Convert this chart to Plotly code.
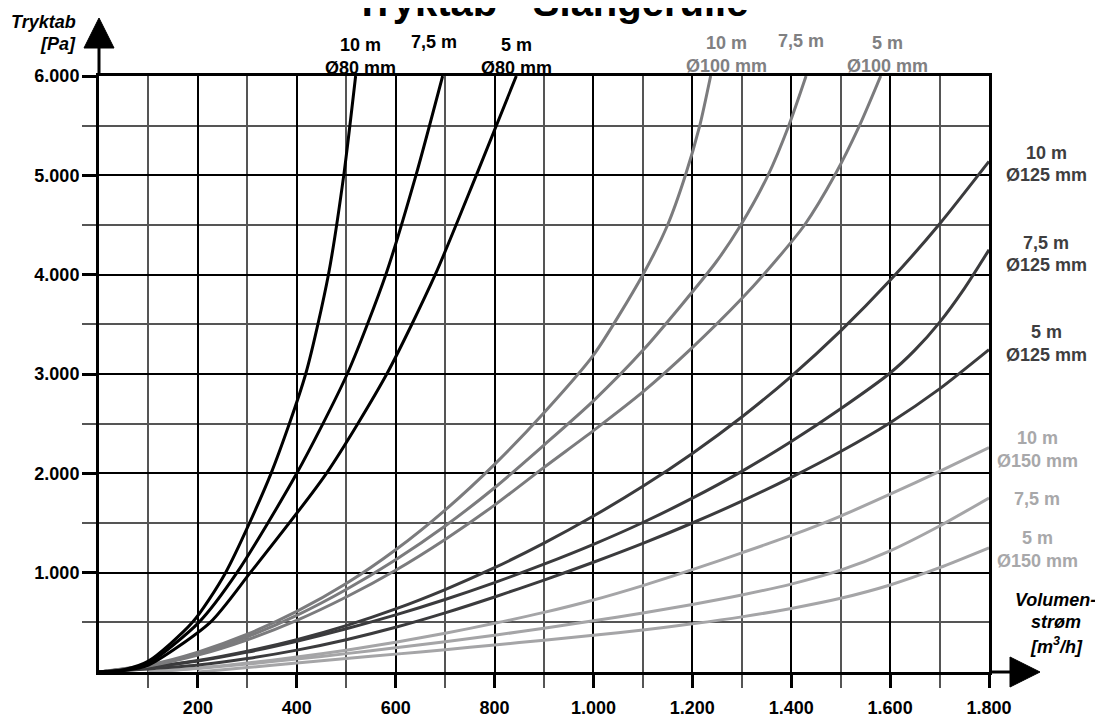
import plotly.graph_objects as go

# ---------------- data ----------------
# Ø80 mm  (flow m3/h, pressure loss Pa)
flow_80_10 = [0, 50, 100, 189, 256, 348, 418, 464, 495, 519]
tryk_80_10 = [0, 24, 110, 500, 1000, 2000, 3000, 4000, 5000, 6000]
flow_80_75 = [0, 50, 100, 202, 279, 400, 502, 580, 641, 695]
tryk_80_75 = [0, 20, 90, 500, 1000, 2000, 3000, 4000, 5000, 6000]
flow_80_5 = [0, 50, 100, 225, 306, 460, 582, 680, 763, 844]
tryk_80_5 = [0, 15, 70, 500, 1000, 2000, 3000, 4000, 5000, 6000]

# Ø100 mm
flow_100_10 = [0, 100, 200, 300, 400, 500, 600, 700, 800, 900, 1000, 1100, 1150, 1186, 1215, 1237]
tryk_100_10 = [0, 70, 200, 380, 610, 890, 1230, 1630, 2090, 2610, 3190, 4000, 4500, 5000, 5500, 6000]
flow_100_75 = [0, 100, 200, 300, 400, 500, 600, 700, 800, 900, 1000, 1101, 1247, 1298, 1353, 1395, 1430]
tryk_100_75 = [0, 65, 185, 355, 570, 830, 1130, 1470, 1855, 2285, 2730, 3243, 4120, 4500, 5000, 5500, 6000]
flow_100_5 = [0, 100, 200, 300, 400, 500, 600, 700, 800, 900, 1000, 1100, 1195, 1300, 1365, 1427, 1488, 1538, 1581]
tryk_100_5 = [0, 60, 170, 325, 520, 755, 1025, 1335, 1680, 2060, 2430, 2820, 3243, 3760, 4120, 4500, 5000, 5500, 6000]

# Ø125 mm
flow_125 = [0, 100, 200, 300, 400, 500, 600, 700, 800, 900, 1000, 1100, 1200, 1300, 1400, 1500, 1600, 1700, 1800]
tryk_125_10 = [0, 47, 116, 210, 326, 467, 635, 830, 1050, 1297, 1570, 1869, 2200, 2567, 2977, 3434, 3943, 4510, 5140]
tryk_125_5 = [0, 30, 70, 135, 220, 325, 450, 595, 755, 925, 1105, 1295, 1500, 1720, 1960, 2220, 2510, 2850, 3245]
flow_125_75 = [0, 100, 200, 300, 400, 500, 600, 700, 800, 900, 1000, 1100, 1200, 1300, 1400, 1500, 1600, 1650, 1700, 1750, 1800]
tryk_125_75 = [0, 50, 110, 200, 310, 435, 575, 730, 900, 1085, 1285, 1505, 1750, 2020, 2320, 2650, 3010, 3240, 3520, 3860, 4250]

# Ø150 mm
flow_150 = [100, 200, 300, 400, 500, 600, 700, 800, 900, 1000, 1100, 1200, 1300, 1400, 1500, 1600, 1700, 1800]
tryk_150_10 = [0, 40, 90, 150, 220, 300, 390, 490, 600, 725, 870, 1030, 1200, 1375, 1570, 1790, 2020, 2260]
tryk_150_75 = [0, 35, 80, 130, 185, 245, 305, 370, 440, 515, 595, 680, 775, 885, 1025, 1220, 1470, 1752]
flow_150_5 = [200, 300, 400, 500, 600, 700, 800, 900, 1000, 1100, 1200, 1300, 1400, 1500, 1600, 1700, 1800]
tryk_150_5 = [0, 45, 90, 135, 180, 225, 272, 320, 370, 423, 485, 555, 640, 742, 876, 1050, 1250]

x_major = [200, 400, 600, 800, 1000, 1200, 1400, 1600, 1800]
x_major_text = ["200", "400", "600", "800", "1.000", "1.200", "1.400", "1.600", "1.800"]
x_minor = [100, 300, 500, 700, 900, 1100, 1300, 1500, 1700]
y_major = [1000, 2000, 3000, 4000, 5000, 6000]
y_major_text = ["1.000", "2.000", "3.000", "4.000", "5.000", "6.000"]
y_minor = [500, 1500, 2500, 3500, 4500, 5500]

title_text = "Tryktab - Slangerulle"

# ---------------- styling ----------------
C80 = "#000000"
C100 = "#7b7b7d"
C125 = "#3b3b3d"
C150 = "#a5a5a7"
T100 = "#808082"
T125 = "#3e3e40"
T150 = "#a8a8aa"
FONT = "Liberation Sans, Arial, sans-serif"

W, H = 1103, 718
OFF = 8  # page body margin offset
# target page positions: x=0 -> 99, x=1800 -> 989, y=6000 -> 76, y=0 -> 672
L = 99 - OFF
T = 76 - OFF
PW = 989 - 99
PH = 672 - 76
R = W - L - PW
B = H - T - PH


def px(x):
    return (x - OFF - L) / PW


def py(y):
    return (T + PH - (y - OFF)) / PH


fig = go.Figure()

series = [
    (flow_150_5, tryk_150_5, C150),
    (flow_150, tryk_150_75, C150),
    (flow_150, tryk_150_10, C150),
    (flow_125, tryk_125_5, C125),
    (flow_125_75, tryk_125_75, C125),
    (flow_125, tryk_125_10, C125),
    (flow_100_5, tryk_100_5, C100),
    (flow_100_75, tryk_100_75, C100),
    (flow_100_10, tryk_100_10, C100),
    (flow_80_5, tryk_80_5, C80),
    (flow_80_75, tryk_80_75, C80),
    (flow_80_10, tryk_80_10, C80),
]
for xs, ys, col in series:
    fig.add_trace(go.Scatter(x=xs, y=ys, mode="lines",
                             line=dict(color=col, width=3, shape="spline", smoothing=0.7),
                             hoverinfo="skip", showlegend=False))

fig.update_xaxes(range=[0, 1800], showline=True, linewidth=3, linecolor="black", mirror=True,
                 automargin=False,
                 tickmode="array", tickvals=x_major, ticktext=x_major_text,
                 ticks="outside", ticklen=13, tickwidth=3, tickcolor="black",
                 ticklabelstandoff=4,
                 tickfont=dict(family=FONT, size=18, color="black", weight="bold"),
                 showgrid=True, gridcolor="black", gridwidth=1.5, zeroline=False,
                 minor=dict(tickmode="array", tickvals=x_minor, ticks="outside", ticklen=13,
                            tickwidth=1.5, tickcolor="#555555", showgrid=True,
                            gridcolor="#555555", gridwidth=1.5))
fig.update_yaxes(range=[0, 6000], showline=True, linewidth=3, linecolor="black", mirror=True,
                 automargin=False,
                 tickmode="array", tickvals=y_major, ticktext=y_major_text,
                 ticks="outside", ticklen=14, tickwidth=3, tickcolor="black",
                 ticklabelstandoff=-1,
                 tickfont=dict(family=FONT, size=18, color="black", weight="bold"),
                 showgrid=True, gridcolor="black", gridwidth=1.5, zeroline=False,
                 minor=dict(tickmode="array", tickvals=y_minor, ticks="outside", ticklen=14,
                            tickwidth=1.5, tickcolor="#555555", showgrid=True,
                            gridcolor="#555555", gridwidth=1.5))

shapes = [
    # y-axis extension and arrow
    dict(type="line", xref="paper", yref="paper", x0=0, x1=0, y0=1, y1=py(46),
         line=dict(color="black", width=3)),
    dict(type="path", xref="paper", yref="paper",
         path=f"M {px(99-15)} {py(48)} L {px(99)} {py(18)} L {px(99+15)} {py(48)} Z",
         fillcolor="black", line=dict(color="black", width=1)),
    # x-axis extension and arrow
    dict(type="line", xref="paper", yref="paper", x0=1, x1=px(1012), y0=0, y1=0,
         line=dict(color="black", width=3)),
    dict(type="path", xref="paper", yref="paper",
         path=f"M {px(1010)} {py(657)} L {px(1040)} {py(672)} L {px(1010)} {py(687)} Z",
         fillcolor="black", line=dict(color="black", width=1)),
]

ann = []


def add_text(text, x, y, color="black", size=18, italic=False, xanchor="center"):
    ann.append(dict(text=text, x=px(x), y=py(y), xref="paper", yref="paper",
                    showarrow=False, xanchor=xanchor, yanchor="middle",
                    font=dict(family=FONT, size=size, color=color, weight="bold",
                              style="italic" if italic else "normal")))


add_text(title_text, 551, 2, size=40)
add_text("Tryktab", 78, 22, italic=True, xanchor="right")
add_text("[Pa]", 78, 44, italic=True, xanchor="right")
add_text("Volumen-", 1055, 600, italic=True)
add_text("strøm", 1056, 622, italic=True)
add_text("[m<sup>3</sup>/h]", 1056, 645, italic=True)

# Ø80 labels
add_text("10 m", 360, 45)
add_text("Ø80 mm", 360, 68)
add_text("7,5 m", 434, 42)
add_text("5 m", 516, 45)
add_text("Ø80 mm", 516, 68)
# Ø100 labels
add_text("10 m", 726, 43, T100)
add_text("Ø100 mm", 726, 66, T100)
add_text("7,5 m", 801, 41, T100)
add_text("5 m", 887, 43, T100)
add_text("Ø100 mm", 887, 66, T100)
# Ø125 labels
add_text("10 m", 1046, 153, T125)
add_text("Ø125 mm", 1046, 175, T125)
add_text("7,5 m", 1046, 243, T125)
add_text("Ø125 mm", 1046, 265, T125)
add_text("5 m", 1046, 332, T125)
add_text("Ø125 mm", 1046, 355, T125)
# Ø150 labels
add_text("10 m", 1037, 438, T150)
add_text("Ø150 mm", 1037, 461, T150)
add_text("7,5 m", 1037, 499, T150)
add_text("5 m", 1037, 538, T150)
add_text("Ø150 mm", 1037, 561, T150)

fig.update_layout(width=W, height=H, autosize=False,
                  margin=dict(l=L, r=R, t=T, b=B, pad=0),
                  plot_bgcolor="white", paper_bgcolor="white",
                  showlegend=False, shapes=shapes, annotations=ann,
                  font=dict(family=FONT))

fig.write_html("out.html")
